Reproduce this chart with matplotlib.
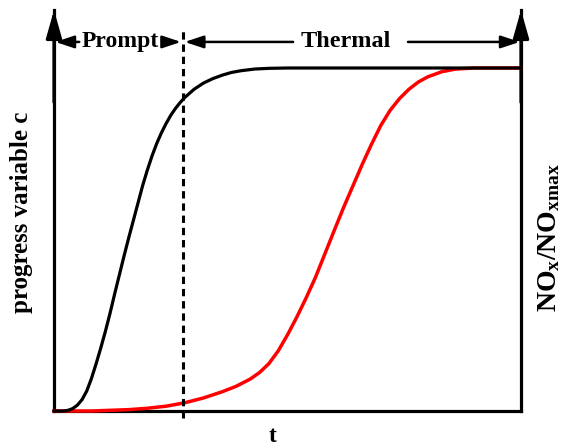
import matplotlib
matplotlib.use("Agg")
import matplotlib.pyplot as plt

plt.rcParams["font.family"] = ["Liberation Serif", "DejaVu Serif"]
plt.rcParams["font.weight"] = "bold"
plt.rcParams["mathtext.fontset"] = "custom"
plt.rcParams["mathtext.rm"] = "Liberation Serif:bold"
plt.rcParams["mathtext.bf"] = "Liberation Serif:bold"
plt.rcParams["mathtext.it"] = "Liberation Serif:bold"

# progress variable c (prompt / black), t normalised 0..1
t_prompt = [0, 0.02, 0.03, 0.04, 0.05, 0.06, 0.07, 0.08, 0.09, 0.10,
            0.11, 0.12, 0.13, 0.14, 0.15, 0.16, 0.17, 0.18, 0.19, 0.20,
            0.21, 0.22, 0.23, 0.24, 0.25, 0.26, 0.27, 0.28, 0.30, 0.32,
            0.34, 0.36, 0.38, 0.40, 0.43, 0.46, 0.50, 1.0]
c_prompt = [0, 0, 0.002, 0.007, 0.017, 0.033, 0.058, 0.094, 0.137, 0.183,
            0.232, 0.285, 0.342, 0.397, 0.452, 0.505, 0.556, 0.607, 0.658, 0.703,
            0.744, 0.780, 0.811, 0.838, 0.862, 0.882, 0.899, 0.914, 0.938, 0.956,
            0.969, 0.979, 0.987, 0.992, 0.997, 0.999, 1.0, 1.0]

# NOx / NOx,max (thermal / red)
t_nox = [0, 0.08, 0.12, 0.16, 0.20, 0.24, 0.28, 0.32, 0.36, 0.39,
         0.42, 0.44, 0.46, 0.48, 0.50, 0.52, 0.54, 0.56, 0.58, 0.60,
         0.62, 0.64, 0.66, 0.68, 0.70, 0.72, 0.74, 0.76, 0.78, 0.80,
         0.83, 0.86, 0.90, 1.0]
c_nox = [0, 0, 0.002, 0.004, 0.008, 0.014, 0.024, 0.038, 0.056, 0.072,
         0.093, 0.112, 0.138, 0.175, 0.222, 0.274, 0.330, 0.390, 0.458, 0.526,
         0.593, 0.656, 0.719, 0.778, 0.833, 0.877, 0.911, 0.938, 0.959, 0.974,
         0.989, 0.997, 1.0, 1.0]

t_split = 0.276
regions = ["Prompt", "Thermal"]

fig = plt.figure(figsize=(5.65, 4.48), dpi=100)
ax = fig.add_axes([54 / 565, 37 / 448, 467 / 565, 401 / 448])
ytop = 401 / 343
ax.set_xlim(0, 1)
ax.set_ylim(0, ytop)
ax.set_xticks([])
ax.set_yticks([])
ax.spines["top"].set_visible(False)
for s in ["left", "right", "bottom"]:
    ax.spines[s].set_linewidth(2.3)
    ax.spines[s].set_capstyle("projecting")

ax.plot(t_nox, c_nox, color="red", lw=2.5, clip_on=False, zorder=3,
        solid_joinstyle="round")
ax.plot(t_prompt, c_prompt, color="black", lw=2.3, clip_on=False, zorder=4,
        solid_joinstyle="round")

# dashed split line
ax.plot([t_split, t_split], [-0.02, 1.117], color="black", lw=2.2,
        linestyle=(0, (2.4, 1.6)), clip_on=False, zorder=5)

# arrow heads on the vertical axes
big = dict(arrowstyle="-|>,head_length=0.85,head_width=0.24", color="black",
           lw=2.3, mutation_scale=20, shrinkA=0, shrinkB=0)
for xv in [0, 1]:
    ax.annotate("", xy=(xv, ytop), xytext=(xv, 0.9), arrowprops=big,
                annotation_clip=False)

# region arrows
ya = 1.076
small = dict(arrowstyle="-|>,head_length=0.75,head_width=0.25", color="black",
             lw=1.8, mutation_scale=15, shrinkA=0, shrinkB=0)
for x0, x1 in [(0.054, 0.003), (0.232, t_split - 0.004),
               (0.512, t_split + 0.004), (0.758, 0.997)]:
    ax.annotate("", xy=(x1, ya), xytext=(x0, ya), arrowprops=small,
                annotation_clip=False)
ax.text(0.141, ya, regions[0], ha="center", va="center", fontsize=17,
        fontweight="bold")
ax.text(0.625, ya, regions[1], ha="center", va="center", fontsize=17.5,
        fontweight="bold")

fig.text(22 / 565, 0.527, "progress variable c", rotation=90, ha="center",
         va="center", fontsize=18, fontweight="bold")
fig.text(549 / 565, 0.471, r"$\mathbf{NO_x/NO_{xmax}}$", rotation=90,
         ha="center", va="center", fontsize=20)
fig.text(273 / 565, 1 / 448, "t", ha="center", va="bottom", fontsize=17,
         fontweight="bold")

fig.savefig("out.png", dpi=100)
